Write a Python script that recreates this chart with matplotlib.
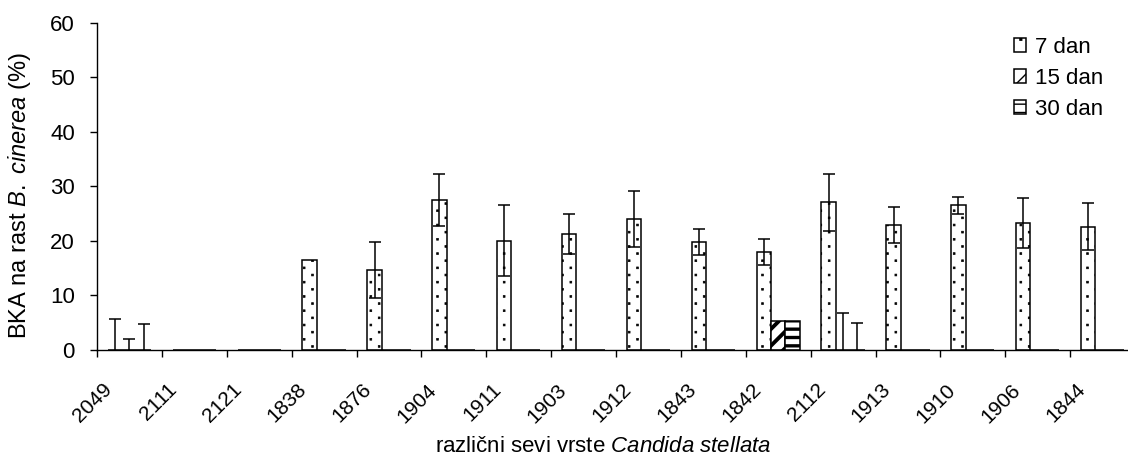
import matplotlib
matplotlib.use("Agg")
import matplotlib.pyplot as plt
import matplotlib.transforms as mtransforms
from matplotlib import hatch as mhatch
from matplotlib.path import Path
import numpy as np

# Strains of Candida stellata
strains = ["2049", "2111", "2121", "1838", "1876", "1904", "1911", "1903",
           "1912", "1843", "1842", "2112", "1913", "1910", "1906", "1844"]

# Mean inhibition (%) and standard deviation per incubation period
day7_mean = [0, 0, 0, 16.5, 14.7, 27.5, 20.0, 21.3, 24.0, 19.8, 18.0, 27.1, 23.0, 26.5, 23.3, 22.6]
day7_err = [5.7, 0, 0, 0, 5.1, 4.7, 6.5, 3.7, 5.2, 2.3, 2.4, 5.2, 3.3, 1.6, 4.6, 4.3]
day15_mean = [0, 0, 0, 0, 0, 0, 0, 0, 0, 0, 5.4, 0, 0, 0, 0, 0]
day15_err = [2.0, 0, 0, 0, 0, 0, 0, 0, 0, 0, 0, 6.7, 0, 0, 0, 0]
day30_mean = [0, 0, 0, 0, 0, 0, 0, 0, 0, 0, 5.4, 0, 0, 0, 0, 0]
day30_err = [4.7, 0, 0, 0, 0, 0, 0, 0, 0, 0, 0, 4.9, 0, 0, 0, 0]

series_labels = ["7 dan", "15 dan", "30 dan"]
y_ticks = [0, 10, 20, 30, 40, 50, 60]


class StaggeredDots(mhatch.HatchPatternBase):
    """Sparse staggered dot texture used for the '.' hatch."""
    filled = True
    n_cols = 6
    n_rows = 14
    half = 0.009

    def __init__(self, hatch, density):
        self.active = hatch.count(".") > 0
        self.num_vertices = self.n_cols * self.n_rows * 5 if self.active else 0

    def set_vertices_and_codes(self, vertices, codes):
        h = self.half
        sq = np.array([[-h, -h], [h, -h], [h, h], [-h, h], [-h, -h]])
        sq_codes = [Path.MOVETO, Path.LINETO, Path.LINETO, Path.LINETO, Path.CLOSEPOLY]
        k = 0
        for r in range(self.n_rows):
            yy = (r + 0.5) / self.n_rows
            shift = 0.25 if r % 2 == 0 else 0.75
            for c in range(self.n_cols):
                xx = (c + shift) / self.n_cols
                vertices[k:k + 5] = sq + [xx, yy]
                codes[k:k + 5] = sq_codes
                k += 5


mhatch._hatch_types = [StaggeredDots if t is mhatch.SmallFilledCircles else t
                       for t in mhatch._hatch_types]

plt.rcParams["font.family"] = ["Liberation Sans", "DejaVu Sans"]
plt.rcParams["mathtext.fontset"] = "custom"
plt.rcParams["mathtext.rm"] = "Liberation Sans"
plt.rcParams["mathtext.it"] = "Liberation Sans:italic"

W, H = 1128, 457
fig = plt.figure(figsize=(W / 100, H / 100), dpi=100)
ax = fig.add_axes([97 / W, (H - 350) / H, (1135 - 97) / W, (350 - 22.7) / H])

n = len(strains)
x = np.arange(n) + 0.5
bw = 1 / 4.5

series = [(day7_mean, day7_err, ".", 0.5),
          (day15_mean, day15_err, "//", 2.8),
          (day30_mean, day30_err, "--", 2.4)]

handles = []
for k, (mean, err, hatch, hlw) in enumerate(series):
    pos = x + (k - 1) * bw
    with plt.rc_context({"hatch.linewidth": hlw}):
        bars = ax.bar(pos, mean, width=bw, facecolor="white", edgecolor="black",
                      linewidth=1.1, hatch=hatch, label=series_labels[k], zorder=2)
    handles.append(bars)
    m = np.array(mean, dtype=float)
    e = np.array(err, dtype=float)
    has = e > 0
    ax.errorbar(pos[has], m[has], yerr=e[has], fmt="none", ecolor="black",
                elinewidth=1.1, capsize=4, capthick=1.1, zorder=3)

ax.set_xlim(0, n)
ax.set_ylim(0, 60)
ax.set_yticks(y_ticks)
ax.set_xticks(np.arange(n + 1))
ax.set_xticklabels([])
ax.set_xticks(x, minor=True)
ax.set_xticklabels(strains, minor=True, rotation=45, ha="right", va="top",
                   rotation_mode="anchor", fontsize=15)
ax.tick_params(axis="x", which="minor", length=0, pad=0)
ax.tick_params(axis="x", which="major", length=5, width=1, direction="out")
ax.tick_params(axis="y", length=5, width=1, direction="out", labelsize=16, pad=11)

offset = mtransforms.ScaledTranslation(-27 / 100, -30 / 100, fig.dpi_scale_trans)
for lab in ax.get_xticklabels(minor=True):
    lab.set_transform(lab.get_transform() + offset)

for side in ("top", "right"):
    ax.spines[side].set_visible(False)
ax.spines["left"].set_linewidth(1)
ax.spines["bottom"].set_linewidth(1)

fig.text(20 / W, 1 - 196 / H, r"BKA na rast $\mathit{B.\ cinerea}$ (%)",
         rotation=90, ha="center", va="center", fontsize=17)
fig.text(603 / W, 1 - 447 / H, r"različni sevi vrste $\mathit{Candida\ stellata}$",
         ha="center", va="center", fontsize=16)

ax.legend(handles=handles, loc="upper right", bbox_to_anchor=(1112 / W, 1 - 28 / H),
          bbox_transform=fig.transFigure, frameon=False, fontsize=16,
          handlelength=0.55, handleheight=0.55, handletextpad=0.4, labelspacing=0.45,
          borderaxespad=0)

fig.savefig("out.png", dpi=100)
